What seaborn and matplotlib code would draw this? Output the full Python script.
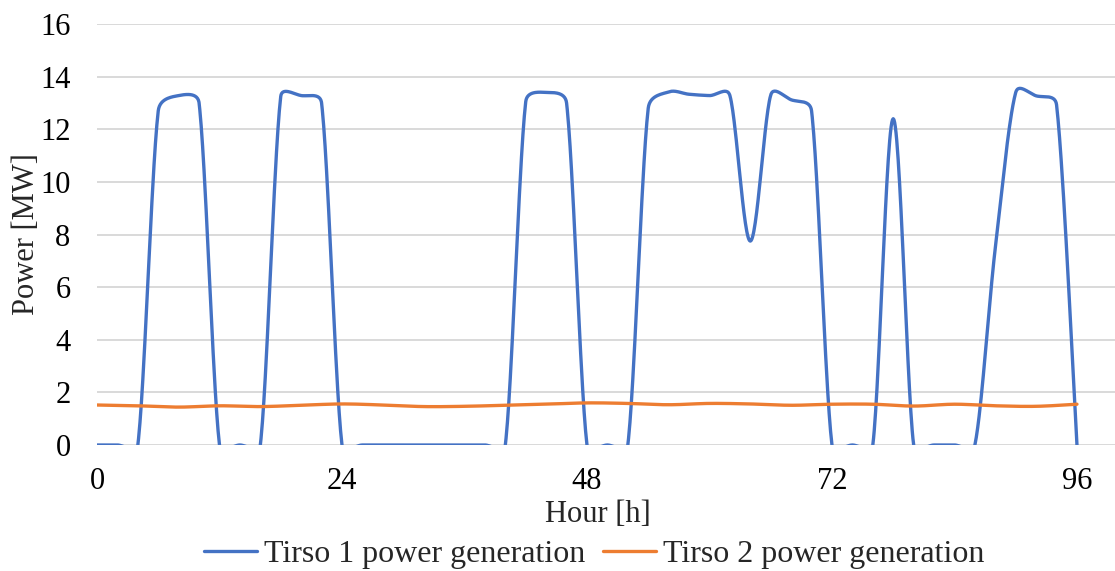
import numpy as np
import pandas as pd
import matplotlib
matplotlib.use("Agg")
import matplotlib.pyplot as plt
import seaborn as sns

# Tirso 1 output, sampled every 2 hours [MW]
hours_t1 = list(range(0, 97, 2))
tirso1_mw = [0, 0, 0, 12.7, 13.28, 13.0, 0, 0, 0, 13.25, 13.28, 13.0,
             0, 0, 0, 0, 0, 0, 0, 0, 0, 13.05, 13.4, 13.0,
             0, 0, 0, 12.8, 13.42, 13.33, 13.28, 13.28, 7.75, 13.3, 13.12, 12.7,
             0, 0, 0, 12.4, 0, 0, 0, 0, 7.5, 13.4, 13.27, 12.93, 0]

# Tirso 2 output, sampled every 4 hours [MW]
hours_t2 = list(range(0, 97, 4))
tirso2_mw = [1.52, 1.49, 1.44, 1.49, 1.46, 1.51, 1.56, 1.52, 1.46, 1.47, 1.51, 1.55,
             1.60, 1.58, 1.53, 1.58, 1.56, 1.51, 1.55, 1.55, 1.48, 1.55, 1.49, 1.47, 1.55]

series_names = ["Tirso 1 power generation", "Tirso 2 power generation"]
series_colors = ["#4472C4", "#ED7D31"]
x_ticks = [0, 24, 48, 72, 96]
y_ticks = [0, 2, 4, 6, 8, 10, 12, 14, 16]

sns.set_theme(style="white")
plt.rcParams["font.family"] = ["Liberation Serif", "DejaVu Serif"]
FS = 22

W, H, DPI = 1115, 571, 100
fig = plt.figure(figsize=(W / DPI, H / DPI), dpi=DPI)
ax = fig.add_axes([97 / W, 126 / H, 1 - 97 / W, (445 - 24) / H])
ax.set_xlim(0, (W - 97) / 10.208)
ax.set_ylim(0, 16)


def smooth_curve(ax, xs, ys, steps=30):
    """Bezier smoothing in screen space, with control arms limited to half a segment."""
    pts = ax.transData.transform(np.column_stack([xs, ys]).astype(float))
    n = len(pts)
    out = [pts[0]]
    t = np.linspace(0, 1, steps)[1:][:, None]
    for i in range(n - 1):
        p0 = pts[max(i - 1, 0)]
        p1 = pts[i]
        p2 = pts[i + 1]
        p3 = pts[min(i + 2, n - 1)]
        d12 = np.linalg.norm(p2 - p1)
        d02 = np.linalg.norm(p2 - p0)
        d13 = np.linalg.norm(p3 - p1)
        f0 = 1 / 6 if d02 / 6 < d12 / 2 else (d12 / 2 / d02 if d02 > 0 else 0)
        f1 = 1 / 6 if d13 / 6 < d12 / 2 else (d12 / 2 / d13 if d13 > 0 else 0)
        c1 = p1 + (p2 - p0) * f0
        c2 = p2 - (p3 - p1) * f1
        seg = ((1 - t) ** 3) * p1 + 3 * ((1 - t) ** 2) * t * c1 + 3 * (1 - t) * t ** 2 * c2 + t ** 3 * p2
        out.extend(seg)
    back = ax.transData.inverted().transform(np.array(out))
    return back[:, 0], back[:, 1]


for xs, ys, name, col in [(hours_t1, tirso1_mw, series_names[0], series_colors[0]),
                          (hours_t2, tirso2_mw, series_names[1], series_colors[1])]:
    sx, sy = smooth_curve(ax, xs, ys)
    df = pd.DataFrame({"Hour": sx, "Power": sy})
    sns.lineplot(data=df, x="Hour", y="Power", sort=False, estimator=None,
                 color=col, linewidth=2.4, label=name, ax=ax)

ax.set_xlim(0, (W - 97) / 10.208)
ax.set_ylim(0, 16)
ax.set_xticks(x_ticks)
ax.set_yticks(y_ticks)
ax.tick_params(axis="both", length=0, labelsize=FS, colors="black")
ax.tick_params(axis="y", pad=19)
ax.tick_params(axis="x", pad=16)
ax.grid(axis="y", color="#d9d9d9", linewidth=1.4)
ax.grid(axis="x", visible=False)
ax.set_axisbelow(True)
for s in ax.spines.values():
    s.set_visible(False)

ax.set_xlabel("Hour [h]", fontsize=FS)
ax.set_ylabel("Power [MW]", fontsize=FS)
ax.xaxis.set_label_coords((598 - 97) / (W - 97), (445 - 500) / 421)
ax.yaxis.label.set_va("center")
ax.yaxis.set_label_coords((27 - 97) / (W - 97), 0.5)

handles, labels = ax.get_legend_handles_labels()
ax.get_legend().remove()
fig.legend(handles, labels, loc="center", bbox_to_anchor=(594 / W, 1 - 554 / H),
           ncol=2, frameon=False, fontsize=23, handlelength=1.66,
           handletextpad=0.22, columnspacing=0.56, borderpad=0, borderaxespad=0)

fig.savefig("out.png", dpi=DPI)
